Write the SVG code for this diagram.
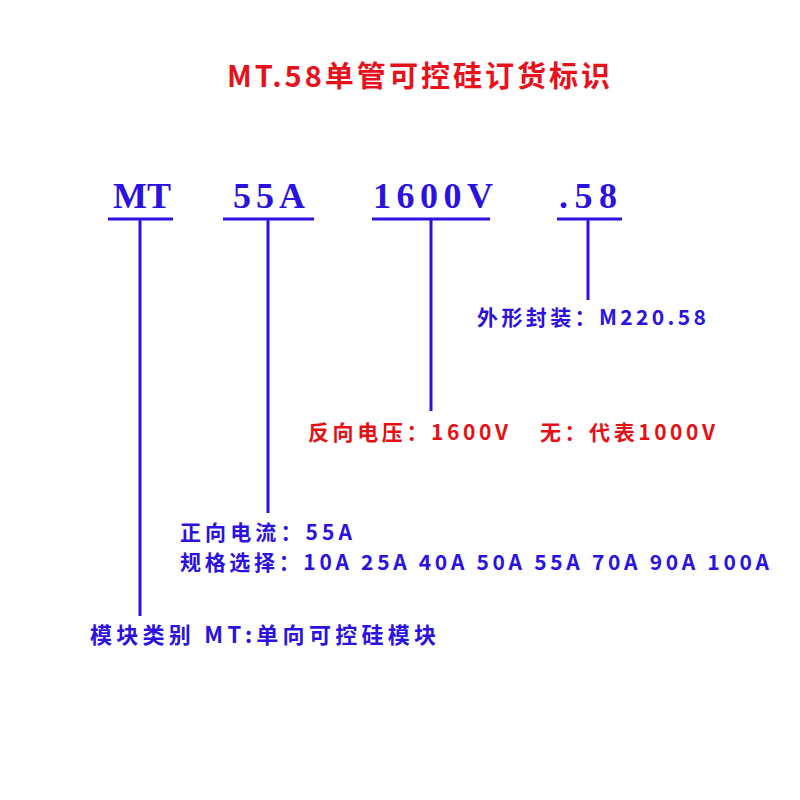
<svg xmlns="http://www.w3.org/2000/svg" width="800" height="800" viewBox="0 0 800 800">
<style>
.bg{fill:#ffffff}
.title{font-family:"Noto Sans CJK SC","Noto Sans",sans-serif;font-weight:bold;font-size:29px;fill:#e8101a}
.code{font-family:"Liberation Serif",serif;font-weight:bold;font-size:36px;fill:#2b12e0}
.lbl{font-family:"Noto Sans CJK SC","Noto Sans",sans-serif;font-weight:bold;font-size:21px;fill:#2b12e0}
.lblr{font-family:"Noto Sans CJK SC","Noto Sans",sans-serif;font-weight:bold;font-size:21px;fill:#e60f14}
.big{font-size:22px}
.ln{stroke:#2b12e0;stroke-width:3;fill:none}
</style>
<rect class="bg" x="0" y="0" width="800" height="800"/>
<g id="title">
<text class="title" x="227" y="87" textLength="383" lengthAdjust="spacing">MT.58单管可控硅订货标识</text>
</g>
<g id="node-mt">
<text class="code" x="113" y="208" textLength="58" lengthAdjust="spacing">MT</text>
</g>
<g id="node-55a">
<text class="code" x="233" y="208" textLength="72" lengthAdjust="spacing">55A</text>
</g>
<g id="node-1600v">
<text class="code" x="373" y="208" textLength="120" lengthAdjust="spacing">1600V</text>
</g>
<g id="node-58">
<text class="code" x="559" y="208" textLength="58" lengthAdjust="spacing">.58</text>
</g>
<g id="connectors">
<line class="ln" x1="108" y1="219" x2="173" y2="219"/>
<line class="ln" x1="223" y1="219" x2="314" y2="219"/>
<line class="ln" x1="372" y1="219" x2="490" y2="219"/>
<line class="ln" x1="557" y1="219" x2="622" y2="219"/>
<line class="ln" x1="140" y1="219" x2="140" y2="616"/>
<line class="ln" x1="268" y1="219" x2="268" y2="513"/>
<line class="ln" x1="431" y1="219" x2="431" y2="411"/>
<line class="ln" x1="588" y1="219" x2="588" y2="300"/>
</g>
<g id="label-package">
<text class="lbl" x="477" y="325" textLength="229" lengthAdjust="spacing">外形封装：M220.58</text>
</g>
<g id="label-voltage">
<text class="lblr" x="308" y="440" textLength="200" lengthAdjust="spacing">反向电压：1600V</text>
<text class="lblr" x="540" y="440" textLength="175" lengthAdjust="spacing">无：代表1000V</text>
</g>
<g id="label-current">
<text class="lbl" x="180" y="540" textLength="172" lengthAdjust="spacing">正向电流：55A</text>
<text class="lbl" x="180" y="570" textLength="589" lengthAdjust="spacing">规格选择：10A 25A 40A 50A 55A 70A 90A 100A</text>
</g>
<g id="label-type">
<text class="lbl big" x="90" y="643" textLength="346" lengthAdjust="spacing">模块类别 MT:单向可控硅模块</text>
</g>
</svg>
